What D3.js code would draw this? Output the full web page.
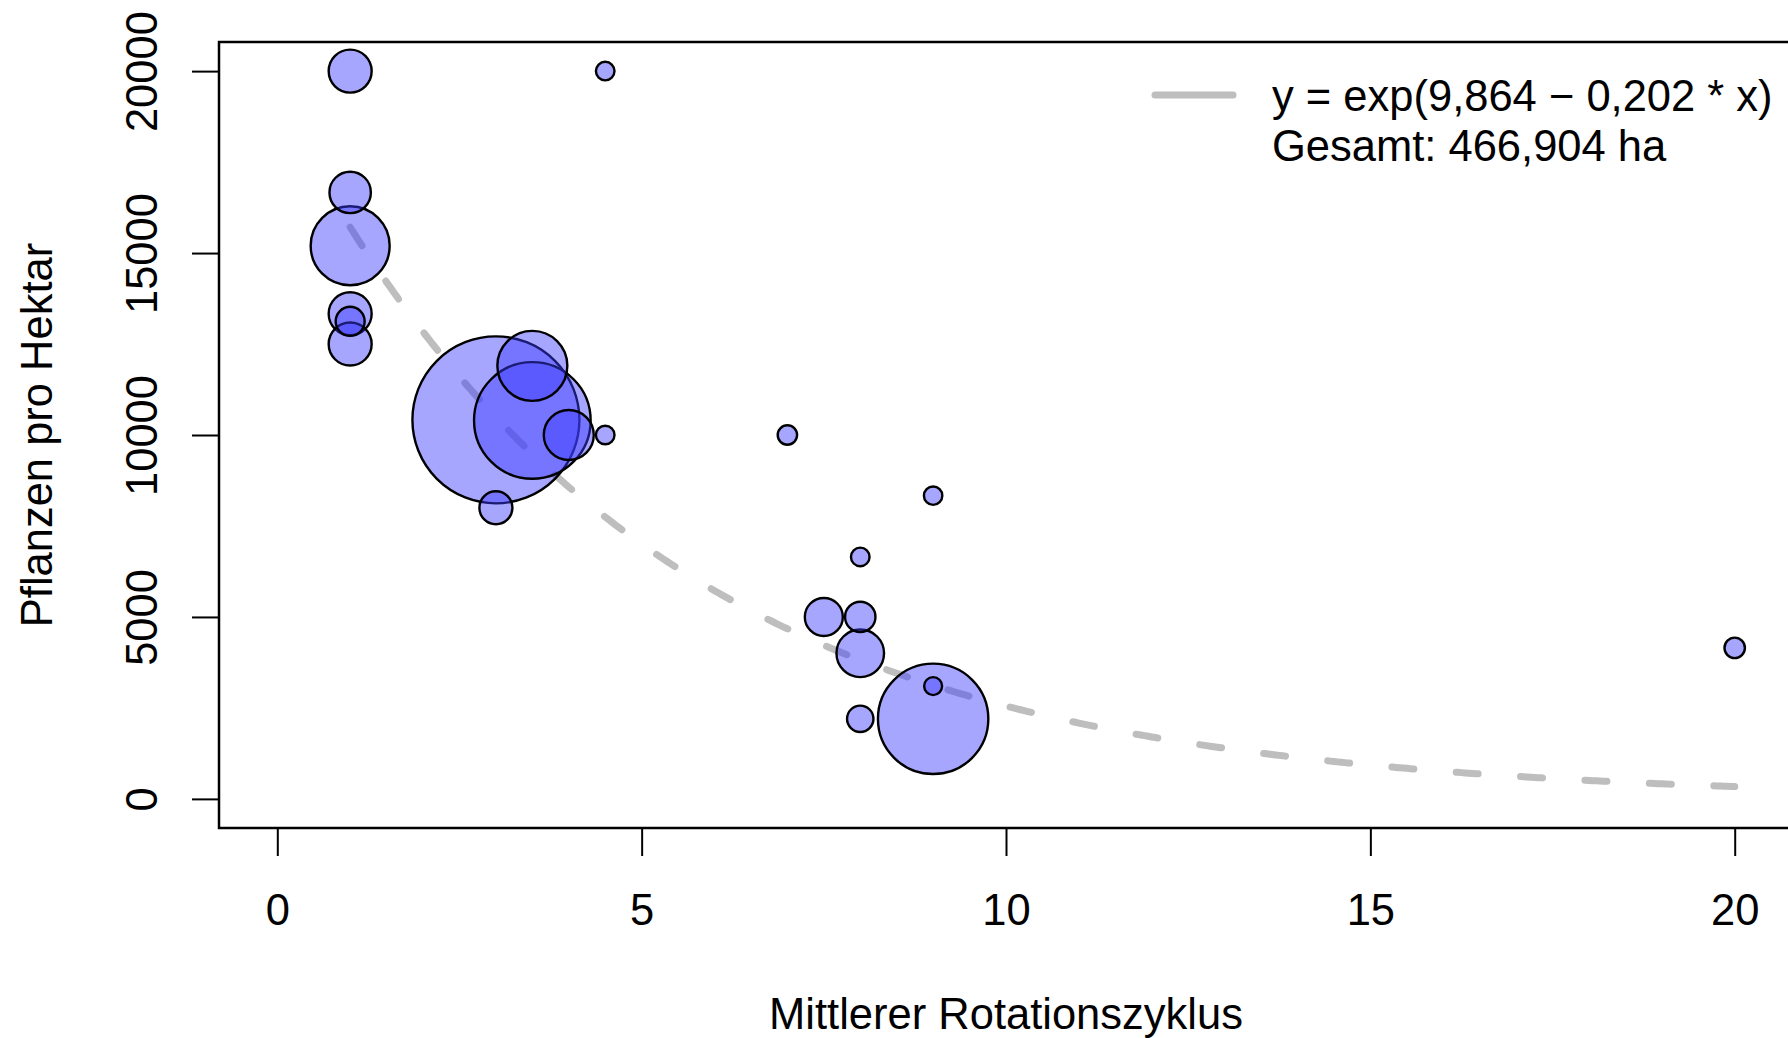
<!DOCTYPE html>
<html>
<head>
<meta charset="utf-8">
<script src="https://cdn.jsdelivr.net/npm/d3@7"></script>
<style>
  html, body { margin: 0; padding: 0; background: #fff; overflow: hidden; }
  svg { display: block; font-family: "Liberation Sans", Arial, Helvetica, sans-serif; }
</style>
</head>
<body>
<svg id="chart" width="1788" height="1038"></svg>
<script>
// ---- data ----
const rotation = [1, 4.5, 1, 1, 1, 1, 1, 3, 3.5, 3.5, 4, 4.5, 3, 7, 9, 8, 7.5, 8, 8, 8, 9, 9, 20];
const plants   = [20000, 20000, 16667, 15200, 13333, 13125, 12500, 10417, 11900, 10400, 10000, 10000, 8000, 10000, 8333, 6650, 5000, 5000, 4000, 2200, 2200, 3100, 4150];
const areaHa   = [9940, 1860, 9220, 33560, 9940, 4520, 9940, 150000, 26350, 73110, 13440, 1860, 5860, 2020, 1820, 1860, 7770, 4970, 12180, 3750, 65540, 1740, 2240];
const xTicks = [0, 5, 10, 15, 20];
const yTicks = [0, 5000, 10000, 15000, 20000];
const fitA = 9.864, fitB = 0.202;
const legendLines = ["y = exp(9,864 \u2212 0,202 * x)", "Gesamt: 466,904 ha"];
const xTitle = "Mittlerer Rotationszyklus";
const yTitle = "Pflanzen pro Hektar";

// ---- layout ----
const svg = d3.select("#chart");
const pLeft = 219, pRight = 1793, pTop = 42, pBottom = 828;
const x = d3.scaleLinear().domain([-0.8, 20.8]).range([pLeft, pRight]);
const y = d3.scaleLinear().domain([-800, 20800]).range([pBottom, pTop]);
const r = d3.scaleSqrt().domain([0, 150000]).range([0, 83.5]);
const FS = 43.5;

// fit line (drawn under bubbles)
const xs = d3.range(1, 20.0001, 0.05);
svg.append("path")
  .datum(xs)
  .attr("d", d3.line().x(d => x(d)).y(d => y(Math.exp(fitA - fitB * d))))
  .attr("fill", "none")
  .attr("stroke", "#bebebe")
  .attr("stroke-width", 7)
  .attr("stroke-linecap", "round")
  .attr("stroke-dasharray", "22 42.5");

// bubbles
const pts = rotation.map((d, i) => ({x: d, y: plants[i], a: areaHa[i]}))
  .sort((p, q) => q.a - p.a);
svg.append("g").selectAll("circle").data(pts).join("circle")
  .attr("cx", d => x(d.x))
  .attr("cy", d => y(d.y))
  .attr("r", d => r(d.a))
  .attr("fill", "rgba(60,60,255,0.456)")
  .attr("stroke", "#000")
  .attr("stroke-width", 2.4);

// box
svg.append("rect")
  .attr("x", pLeft).attr("y", pTop)
  .attr("width", pRight - pLeft).attr("height", pBottom - pTop)
  .attr("fill", "none").attr("stroke", "#000").attr("stroke-width", 2.5);

// x axis
const gx = svg.append("g").attr("transform", `translate(0,${pBottom})`)
  .call(d3.axisBottom(x).tickValues(xTicks).tickSize(28).tickSizeOuter(0).tickFormat(d3.format("d")));
gx.select(".domain").remove();
gx.selectAll(".tick line").attr("stroke", "#000").attr("stroke-width", 2);
gx.selectAll(".tick text")
  .attr("y", 97).attr("dy", null)
  .attr("font-size", FS).attr("font-family", "Liberation Sans, Arial, sans-serif")
  .attr("fill", "#000");

// y axis
const gy = svg.append("g").attr("transform", `translate(${pLeft},0)`)
  .call(d3.axisLeft(y).tickValues(yTicks).tickSize(27).tickSizeOuter(0).tickFormat(d3.format("d")));
gy.select(".domain").remove();
gy.selectAll(".tick line").attr("stroke", "#000").attr("stroke-width", 2);
gy.selectAll(".tick text")
  .attr("x", 0).attr("y", 0).attr("dy", null)
  .attr("transform", "translate(-62,0) rotate(-90)")
  .attr("text-anchor", "middle")
  .attr("font-size", FS).attr("font-family", "Liberation Sans, Arial, sans-serif")
  .attr("fill", "#000");

// axis titles
svg.append("text")
  .attr("x", (pLeft + pRight) / 2).attr("y", 1029)
  .attr("text-anchor", "middle").attr("font-size", FS)
  .text(xTitle);
svg.append("text")
  .attr("transform", `translate(52,${(pTop + pBottom) / 2}) rotate(-90)`)
  .attr("text-anchor", "middle").attr("font-size", FS)
  .text(yTitle);

// legend
svg.append("line")
  .attr("x1", 1155).attr("x2", 1233).attr("y1", 95).attr("y2", 95)
  .attr("stroke", "#bebebe").attr("stroke-width", 7).attr("stroke-linecap", "round");
svg.selectAll(".leg").data(legendLines).join("text")
  .attr("class", "leg")
  .attr("x", 1272).attr("y", (d, i) => 111 + i * 50)
  .attr("font-size", FS)
  .text(d => d);
</script>
</body>
</html>
